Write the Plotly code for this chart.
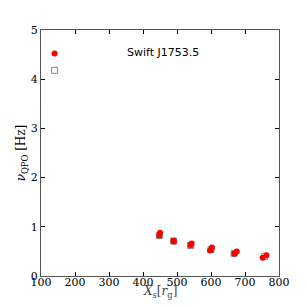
import plotly.graph_objects as go

# Red circles (observed)
obs_x = [140, 450, 448, 490, 491, 540, 543, 597, 603, 668, 676, 752, 763]
obs_y = [4.52, 0.88, 0.83, 0.72, 0.70, 0.63, 0.66, 0.52, 0.58, 0.45, 0.50, 0.37, 0.42]
# Gray open squares (model)
mod_x = [140, 448, 490, 540, 600, 668, 758]
mod_y = [4.18, 0.82, 0.71, 0.62, 0.54, 0.46, 0.40]
# Black small squares
blk_x = [448, 490, 540, 600, 670]
blk_y = [0.82, 0.71, 0.63, 0.53, 0.46]

fig = go.Figure()
fig.add_trace(go.Scatter(x=mod_x, y=mod_y, mode="markers",
    marker=dict(symbol="square-open", size=6, color="#888888", line=dict(width=1))))
fig.add_trace(go.Scatter(x=blk_x, y=blk_y, mode="markers",
    marker=dict(symbol="square", size=5, color="#222222")))
fig.add_trace(go.Scatter(x=obs_x, y=obs_y, mode="markers",
    marker=dict(symbol="circle", size=6, color="red")))

fig.add_annotation(x=458, y=4.55, text="Swift J1753.5", showarrow=False,
    font=dict(family="DejaVu Sans", size=11, color="black"))

fig.add_annotation(xref="paper", yref="paper", x=0.5, y=0, yshift=-16,
    xanchor="center", yanchor="middle", showarrow=False,
    text="<i>X<sub>s</sub></i>[<i>r</i><sub>g</sub>]",
    font=dict(family="DejaVu Serif", size=12, color="#444444"))

axis_common = dict(showgrid=False, zeroline=False, showline=True, linecolor="#555555",
    linewidth=1, mirror="ticks", ticks="inside", ticklen=4, tickcolor="black",
    tickfont=dict(family="DejaVu Serif", size=11, color="black"))

fig.update_xaxes(range=[100, 800], tickvals=[100,200,300,400,500,600,700,800],
    ticklabelstandoff=-4, **axis_common)
fig.update_yaxes(range=[0, 5], tickvals=[0,1,2,3,4,5],
    title=dict(text="<i>ν</i><sub>QPO</sub> [Hz]", standoff=2,
               font=dict(family="DejaVu Serif", size=12, color="black")), **axis_common)

fig.update_layout(width=307, height=307, showlegend=False,
    margin=dict(l=41, r=28, t=30, b=31),
    plot_bgcolor="white", paper_bgcolor="white")
fig.write_html("out.html", config={"displayModeBar": False},
    post_script="document.body.style.margin='0';document.body.style.overflow='hidden';")
